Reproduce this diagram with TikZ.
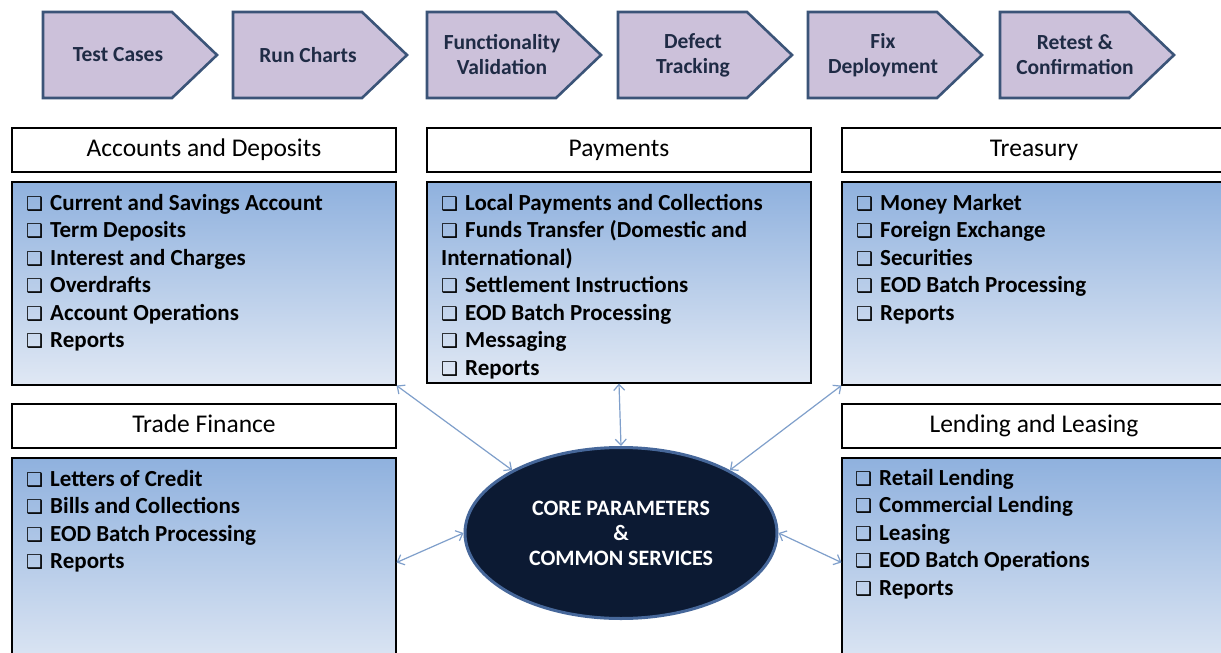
\documentclass[tikz,border=0pt]{standalone}
\usepackage{fontspec}
\setmainfont{Carlito}
\newfontfamily\dejavu{DejaVu Sans}
\usetikzlibrary{arrows.meta,shapes.geometric}

\definecolor{chevfill}{HTML}{CCC1DA}
\definecolor{chevline}{HTML}{3B5478}
\definecolor{chevtext}{HTML}{1F2B45}
\definecolor{bodytop}{HTML}{8FB1DE}
\definecolor{bodybot}{HTML}{E0E8F4}
\definecolor{corefill}{HTML}{0C1A33}
\definecolor{coreline}{HTML}{46679A}
\definecolor{linkcol}{HTML}{7F9FCB}

\newcommand\cbx{{\dejavu\fontsize{19}{19}\selectfont ❑}\hspace{7pt}}

\begin{document}
\begin{tikzpicture}[x=1pt,y=-1pt,
  chev/.style={draw=chevline, line width=2.6pt, fill=chevfill, line join=miter},
  chevtxt/.style={text=chevtext, font=\bfseries\fontsize{21.5}{25}\selectfont, align=center, inner sep=0pt},
  hdr/.style={draw=black, line width=1.1pt, fill=white, minimum width=384pt, minimum height=44pt, inner sep=0pt, text height=17pt, text depth=5pt, font=\fontsize{25.5}{28}\selectfont},
  bodybox/.style={draw=black, line width=1.1pt, top color=bodytop, bottom color=bodybot, minimum width=384pt, inner sep=0pt},
  items/.style={font=\bfseries\fontsize{23}{27.5}\selectfont, align=left, anchor=north west, inner sep=0pt},
  core/.style={ellipse, draw=coreline, line width=3pt, fill=corefill, minimum width=312pt, minimum height=171pt, inner sep=0pt, text=white, font=\bfseries\fontsize{22}{25}\selectfont, align=center},
  link/.style={draw=linkcol, line width=1.2pt, arrows={Straight Barb[length=6pt,width=11pt]-Straight Barb[length=6pt,width=11pt]}}
]
\useasboundingbox (0,0) rectangle (1221,653);
\clip (0,0) rectangle (1221,653);
\fill[white] (0,0) rectangle (1221,653);

% process chevrons
\foreach \nm/\x/\t in {tc/43/{Test Cases}, rc/233/{Run Charts}, fv/427/{Functionality\\Validation}, dt/618/{Defect\\Tracking}, fd/808/{Fix\\Deployment}, rt/1000/{Retest \&\\Confirmation}} {
  \draw[chev] (\x,12) -- ++(129,0) -- ++(45,43) -- ++(-45,43) -- ++(-129,0) -- cycle;
  \node[chevtxt] (\nm) at (\x+75,55) {\t};
}

% headers
\node[hdr] (hacc) at (204,150) {Accounts and Deposits};
\node[hdr] (hpay) at (619,150) {Payments};
\node[hdr] (htre) at (1034,150) {Treasury};
\node[hdr] (htra) at (204,426) {Trade Finance};
\node[hdr] (hlen) at (1034,426) {Lending and Leasing};

% bodies
\node[bodybox, minimum height=203pt] (bacc) at (204,283.5) {};
\node[bodybox, minimum height=201pt] (bpay) at (619,282.5) {};
\node[bodybox, minimum height=203pt] (btre) at (1034,283.5) {};
\node[bodybox, minimum height=215pt] (btra) at (204,565.5) {};
\node[bodybox, minimum height=215pt] (blen) at (1034,565.5) {};

% lists
\node[items] (lacc) at (26,194) {\cbx Current and Savings Account\\\cbx Term Deposits\\\cbx Interest and Charges\\\cbx Overdrafts\\\cbx Account Operations\\\cbx Reports};
\node[items] (lpay) at (441,194) {\cbx Local Payments and Collections\\\cbx Funds Transfer (Domestic and\\International)\\\cbx Settlement Instructions\\\cbx EOD Batch Processing\\\cbx Messaging\\\cbx Reports};
\node[items] (ltre) at (856,194) {\cbx Money Market\\\cbx Foreign Exchange\\\cbx Securities\\\cbx EOD Batch Processing\\\cbx Reports};
\node[items] (ltra) at (26,470) {\cbx Letters of Credit\\\cbx Bills and Collections\\\cbx EOD Batch Processing\\\cbx Reports};
\node[items] (llen) at (855,469) {\cbx Retail Lending\\\cbx Commercial Lending\\\cbx Leasing\\\cbx EOD Batch Operations\\\cbx Reports};

% core
\node[core] (core) at (621,533) {CORE PARAMETERS\\\&\\COMMON SERVICES};

% links
\draw[link] (bacc.south east) -- (core.150);
\draw[link] (bpay.south) -- (core.north);
\draw[link] (btre.south west) -- (core.30);
\draw[link] ([yshift=3pt]btra.east) -- (core.west);
\draw[link] (core.east) -- ([yshift=3pt]blen.west);
\end{tikzpicture}
\end{document}
